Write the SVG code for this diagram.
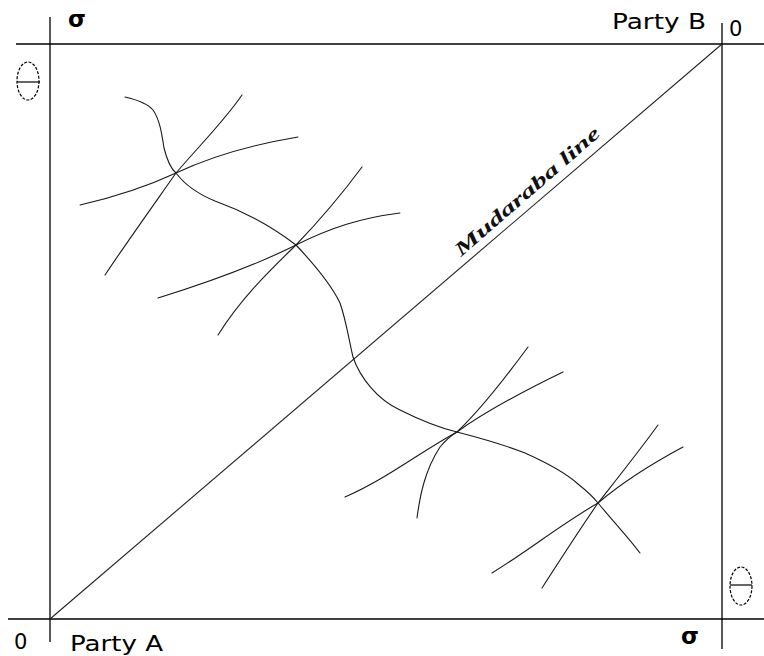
<svg xmlns="http://www.w3.org/2000/svg" width="764" height="656" viewBox="0 0 764 656">
<style>
.ax{stroke:#000;stroke-width:1.3;fill:none}
.cv{stroke:#1a1a1a;stroke-width:1.1;fill:none;stroke-linecap:round}
.lb{font-family:"DejaVu Sans","Open Sans",sans-serif;font-size:21px;fill:#000}
.sg{font-family:"DejaVu Sans",sans-serif;font-size:23px;font-weight:bold;fill:#000}
.th{stroke:#000;stroke-width:1.2;fill:none;stroke-dasharray:3 1.5}
</style>
<rect width="764" height="656" fill="#fff"/>
<g id="axes">
<line class="ax" x1="16" y1="44" x2="764" y2="44"/>
<line class="ax" x1="50" y1="17" x2="50" y2="642"/>
<line class="ax" x1="8" y1="619" x2="764" y2="619"/>
<line class="ax" x1="722" y1="23" x2="722" y2="649"/>
</g>
<g id="labels">
<text class="sg" x="68" y="27">σ</text>
<text class="sg" x="681" y="644">σ</text>
<text class="lb" x="612" y="29" textLength="94" lengthAdjust="spacingAndGlyphs">Party B</text>
<text class="lb" x="729" y="36" font-size="23">0</text>
<text class="lb" x="14" y="649" font-size="23">0</text>
<text class="lb" x="70" y="651" textLength="93" lengthAdjust="spacingAndGlyphs">Party A</text>
</g>
<g id="theta-left">
<ellipse class="th" cx="28" cy="81" rx="11" ry="19"/>
<line x1="17" y1="82" x2="40" y2="82" stroke="#000" stroke-width="1.2"/>
</g>
<g id="theta-right">
<ellipse class="th" cx="741" cy="586" rx="11" ry="19"/>
<line x1="730" y1="585" x2="752" y2="585" stroke="#000" stroke-width="1.2"/>
</g>
<g id="mudaraba">
<line x1="50" y1="619" x2="722" y2="44" stroke="#222" stroke-width="1.1"/>
<text x="0" y="0" transform="translate(461,257) rotate(-41)" font-family="Liberation Serif,serif" font-style="italic" font-weight="bold" font-size="19" textLength="186" lengthAdjust="spacingAndGlyphs" fill="#111">Mudaraba line</text>
</g>
<g id="connectors">
<path class="cv" d="M125,97 C138,100 148,104 153,110 C160,120 162,135 164,148 C167,160 170,168 176,173 C185,185 198,194 215,201 C240,210 270,225 296,245 C312,262 330,282 340,303 C346,320 349,340 353,357 C360,378 378,400 400,410 C420,420 440,428 457,432 C480,438 505,445 525,453 C545,462 565,472 578,484 C588,492 594,498 598,503 C612,520 628,537 640,553"/>
<path class="cv" d="M105,275 C125,245 150,210 176,173 C200,145 225,120 242,95"/>
<path class="cv" d="M80,205 C115,197 148,186 176,173 C210,157 250,145 298,137"/>
<path class="cv" d="M218,335 C240,300 265,275 296,245 C320,220 345,190 362,167"/>
<path class="cv" d="M158,298 C200,285 250,268 296,245 C330,228 360,218 400,213"/>
<path class="cv" d="M417,518 C420,495 425,470 440,447 C446,440 450,436 457,432 C475,415 500,385 528,347"/>
<path class="cv" d="M345,497 C385,480 420,452 457,432 C490,408 530,388 563,372"/>
<path class="cv" d="M542,588 C560,560 578,532 598,503 C620,475 640,450 658,425"/>
<path class="cv" d="M492,573 C525,553 560,525 598,503 C625,480 655,462 683,447"/>
</g>
</svg>
